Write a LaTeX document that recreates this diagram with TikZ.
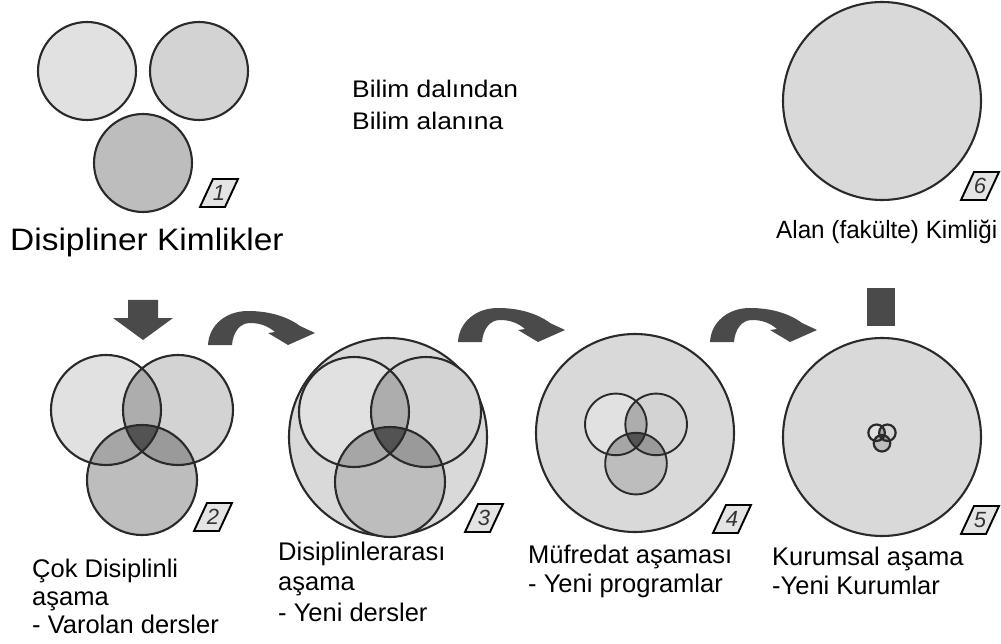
\documentclass[tikz,border=0pt]{standalone}
\usepackage{fontspec}
\setmainfont{Liberation Sans}
\definecolor{arrowgray}{HTML}{4A4A4A}
\definecolor{ringcol}{HTML}{2A2A2A}
\definecolor{bigfill}{HTML}{D9D9D9}
\definecolor{vTL}{HTML}{E1E1E1}
\definecolor{vTR}{HTML}{D3D3D3}
\definecolor{vB}{HTML}{BDBDBD}
\definecolor{vTLTR}{HTML}{ADADAD}
\definecolor{vTLB}{HTML}{A6A6A6}
\definecolor{vTRB}{HTML}{9A9A9A}
\definecolor{vAll}{HTML}{535353}
\definecolor{tagfill}{HTML}{E4E4E4}

% three overlapping circles: centre x, centre y, scale, ring width
\newcommand\vennthree[4]{%
  \begin{scope}[shift={(#1,#2)}, scale=#3]
    \path[fill=vTL] (-36,-35) circle[radius=55];
    \path[fill=vTR] (36,-35) circle[radius=55];
    \path[fill=vB] (0,35) circle[radius=55];
    \begin{scope}
      \clip (-36,-35) circle[radius=55];
      \fill[vTLTR] (36,-35) circle[radius=55];
      \fill[vTLB] (0,35) circle[radius=55];
    \end{scope}
    \begin{scope}
      \clip (36,-35) circle[radius=55];
      \fill[vTRB] (0,35) circle[radius=55];
    \end{scope}
    \begin{scope}
      \clip (-36,-35) circle[radius=55];
      \clip (36,-35) circle[radius=55];
      \fill[vAll] (0,35) circle[radius=55];
    \end{scope}
    \draw[draw=ringcol, line width=#4] (-36,-35) circle[radius=55]
      (36,-35) circle[radius=55] (0,35) circle[radius=55];
  \end{scope}}

\tikzset{
  ring/.style={draw=ringcol, line width=2.1pt},
  lbl/.style={anchor=base west, inner sep=0pt,
    font=\fontsize{25.5}{29}\selectfont},
  tagbox/.pic={
    \path[draw=black, line width=1.9pt, fill=tagfill, line join=miter]
      (-6,-14) -- (19,-14) -- (6,14) -- (-19,14) -- cycle;
    \node[inner sep=0pt, text=black!80, font=\fontsize{22}{22}\itshape]
      (-num) at (0,0) {\tikzpictext};
  },
  bendarrow/.pic={
    \fill[arrowgray] (0,0) .. controls (1,-20) and (18,-34) .. (40,-34)
      .. controls (62,-34) and (80,-28) .. (92,-19)
      -- (107,-12) -- (80,0) -- (60,-12) -- (67,-13)
      .. controls (60,-19) and (52,-22) .. (42,-22)
      .. controls (32,-22) and (25,-13) .. (24,0) -- cycle;
  }
}

\begin{document}
\begin{tikzpicture}[x=1pt, y=-1pt]
\useasboundingbox[fill=white] (0,0) rectangle (1001,644);

% stage 1: three separate disciplines
\draw[ring, fill=vTL] (87,71) circle[radius=49];
\draw[ring, fill=vTR] (199,71) circle[radius=49];
\draw[ring, fill=vB] (143,163) circle[radius=49];
\pic (t1) [pic text=1] at (219,193) {tagbox};
\node[anchor=base west, inner sep=0pt, xscale=1.08,
  font=\fontsize{31}{34}\selectfont] (title) at (10,251) {Disipliner Kimlikler};

\node[anchor=base west, inner sep=0pt, xscale=1.1,
  font=\fontsize{24}{30}\selectfont] (b1) at (352,98) {Bilim dalından};
\node[anchor=base west, inner sep=0pt, xscale=1.1,
  font=\fontsize{24}{30}\selectfont] (b2) at (352,130) {Bilim alanına};

% stage 6: field identity
\draw[ring, fill=bigfill] (882,101) circle[radius=99];
\pic (t6) [pic text=6] at (980,186) {tagbox};
\node[anchor=base west, inner sep=0pt, xscale=0.97, font=\fontsize{25}{29}\selectfont]
  (l6) at (776,239) {Alan (fakülte) Kimliği};

% arrows between the stages
\fill[arrowgray] (128,300) -- (158,300) -- (158,318) -- (173,318)
  -- (143,340) -- (113,318) -- (128,318) -- cycle;
\pic at (208,345) {bendarrow};
\pic at (458,342) {bendarrow};
\pic at (710,342) {bendarrow};
\fill[arrowgray] (867,288) rectangle (895,326);

% stage 2: multidisciplinary
\vennthree{142}{445}{1}{2.1pt}
\pic (t2) [pic text=2] at (213,517) {tagbox};
\node[lbl] (l2a) at (32,577) {Çok Disiplinli};
\node[lbl] (l2b) at (32,605) {aşama};
\node[lbl] (l2c) at (32,633) {- Varolan dersler};

% stage 3: interdisciplinary
\draw[ring, fill=bigfill] (388,437) circle[radius=99];
\vennthree{390}{447}{1}{2.1pt}
\pic (t3) [pic text=3] at (484,518) {tagbox};
\node[lbl] (l3a) at (278,560) {Disiplinlerarası};
\node[lbl] (l3b) at (278,590) {aşama};
\node[lbl] (l3c) at (278,621) {- Yeni dersler};

% stage 4: curriculum
\draw[ring, fill=bigfill] (635,433) circle[radius=99];
\vennthree{636}{444}{0.56}{1.9pt}
\pic (t4) [pic text=4] at (732,519) {tagbox};
\node[lbl] (l4a) at (528,563) {Müfredat aşaması};
\node[lbl] (l4b) at (528,592) {- Yeni programlar};

% stage 5: institutional
\draw[ring, fill=bigfill] (882,437) circle[radius=99];
\vennthree{882}{438}{0.15}{2.2pt}
\pic (t5) [pic text=5] at (980,520) {tagbox};
\node[lbl] (l5a) at (772,565) {Kurumsal aşama};
\node[lbl] (l5b) at (772,594) {-Yeni Kurumlar};
\end{tikzpicture}
\end{document}
